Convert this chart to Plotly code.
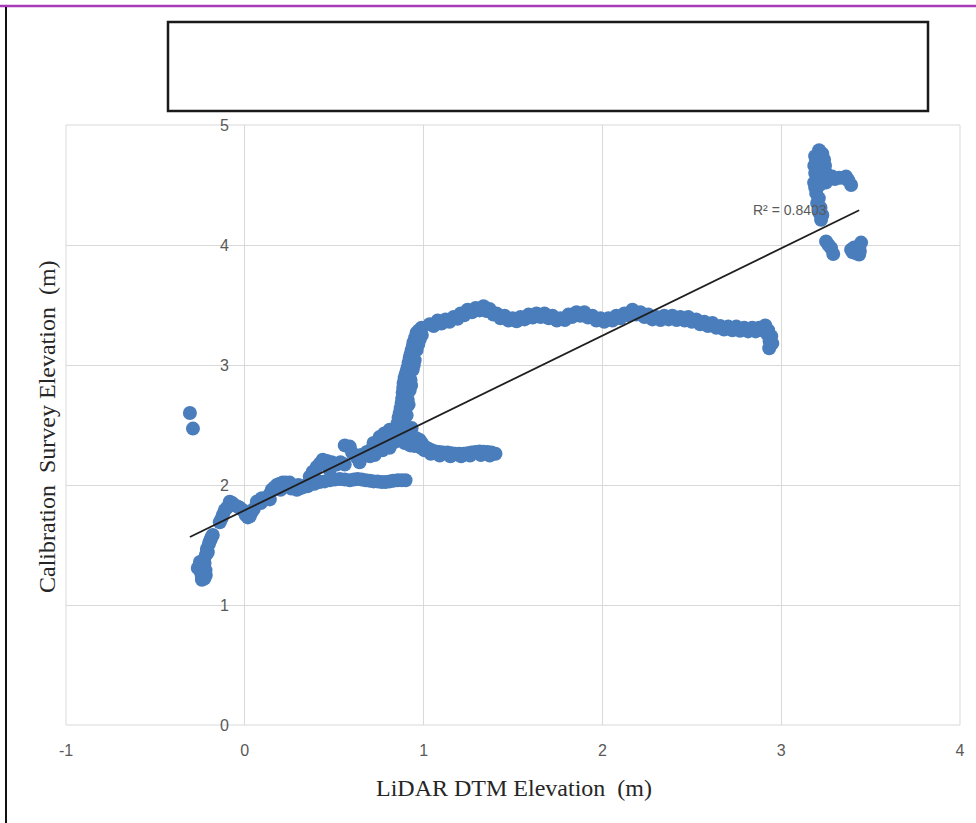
import plotly.graph_objects as go

# ---- survey points (LiDAR DTM elevation vs calibration survey elevation, metres) ----
outlier_x = [-0.307, -0.290]
outlier_y = [2.600, 2.470]

toe_x = [-0.240, -0.246, -0.235, -0.229, -0.218, -0.212, -0.201, -0.190, -0.179, -0.263, -0.251, -0.218,
         -0.240, -0.232, -0.225, -0.207, -0.196, -0.185, -0.226, -0.220]
toe_y = [1.210, 1.275, 1.325, 1.375, 1.417, 1.467, 1.508, 1.550, 1.583, 1.308, 1.358, 1.250,
         1.240, 1.300, 1.350, 1.440, 1.530, 1.570, 1.220, 1.290]

ramp_x = [-0.140, -0.123, -0.112, -0.084, -0.056, -0.028, 0.017, 0.039, 0.067, 0.095,
          0.123, 0.151, 0.179, 0.212, 0.251, 0.291, 0.324, 0.363, 0.402,
          -0.130, -0.100, -0.070, -0.040, -0.010, 0.005, 0.028, 0.050, 0.080, 0.110,
          0.137, 0.165, 0.195, 0.230, 0.270, 0.305, 0.343, 0.380,
          0.090, 0.140, 0.200, 0.260, 0.300, 0.350]
ramp_y = [1.690, 1.750, 1.790, 1.860, 1.830, 1.810, 1.730, 1.775, 1.860, 1.890,
          1.890, 1.960, 2.000, 2.020, 2.020, 1.960, 1.980, 2.020, 2.040,
          1.720, 1.810, 1.850, 1.820, 1.790, 1.750, 1.740, 1.800, 1.870, 1.880,
          1.920, 1.980, 2.010, 2.020, 1.990, 1.970, 2.000, 2.030,
          1.850, 1.880, 1.960, 1.970, 2.000, 1.990]

upper_x = [0.363, 0.402, 0.436, 0.486, 0.514, 0.559, 0.587, 0.626, 0.682, 0.737, 0.793, 0.849, 0.905,
           0.475, 0.559, 0.642, 0.726, 0.810,
           0.380, 0.420, 0.460, 0.500, 0.535, 0.600, 0.650, 0.710, 0.765, 0.820, 0.877,
           0.700, 0.770, 0.840]
upper_y = [2.070, 2.150, 2.210, 2.190, 2.170, 2.330, 2.320, 2.230, 2.275, 2.330, 2.375, 2.460, 2.480,
           2.125, 2.170, 2.190, 2.250, 2.310,
           2.110, 2.180, 2.200, 2.180, 2.190, 2.270, 2.250, 2.300, 2.350, 2.420, 2.470,
           2.240, 2.290, 2.360]

lower_x = [0.419, 0.475, 0.531, 0.587, 0.631, 0.676, 0.721, 0.765, 0.810, 0.855, 0.899,
           0.447, 0.503, 0.559, 0.610, 0.654, 0.700, 0.743, 0.787, 0.830, 0.877, 0.360, 0.390]
lower_y = [2.025, 2.040, 2.050, 2.040, 2.050, 2.040, 2.030, 2.025, 2.030, 2.040, 2.040,
           2.030, 2.045, 2.045, 2.045, 2.045, 2.035, 2.030, 2.025, 2.035, 2.040, 2.000, 2.010]

knot_x = [0.754, 0.810, 0.866, 0.922, 0.978, 0.933, 0.883, 0.838, 0.894, 0.950,
          0.780, 0.850, 0.900, 0.960, 0.910, 0.870, 0.990, 0.820, 0.750, 0.720,
          0.940, 0.965, 0.925, 0.985, 1.005]
knot_y = [2.400, 2.460, 2.440, 2.410, 2.375, 2.475, 2.500, 2.375, 2.350, 2.325,
          2.430, 2.420, 2.450, 2.390, 2.370, 2.390, 2.350, 2.400, 2.370, 2.350,
          2.350, 2.340, 2.330, 2.310, 2.290]

shelf_x = [1.006, 1.045, 1.089, 1.134, 1.179, 1.223, 1.268, 1.313, 1.358, 1.402,
           1.025, 1.067, 1.110, 1.156, 1.200, 1.245, 1.290, 1.335, 1.380,
           1.040, 1.090, 1.150, 1.210, 1.260, 1.320, 1.370]
shelf_y = [2.320, 2.290, 2.275, 2.270, 2.260, 2.260, 2.270, 2.280, 2.275, 2.260,
           2.305, 2.280, 2.270, 2.265, 2.260, 2.265, 2.275, 2.278, 2.270,
           2.260, 2.245, 2.240, 2.240, 2.245, 2.250, 2.245]

rise_x = [0.855, 0.866, 0.877, 0.883, 0.888, 0.899, 0.911, 0.922, 0.933, 0.944, 0.961, 0.989,
          0.888, 0.899, 0.911, 0.922, 0.927, 0.939, 0.950, 0.961, 0.978,
          0.860, 0.872, 0.880, 0.886, 0.894, 0.905, 0.916, 0.928, 0.940, 0.953, 0.975,
          0.905, 0.916, 0.930, 0.945, 0.970, 0.990]
rise_y = [2.515, 2.600, 2.680, 2.770, 2.850, 2.920, 2.980, 3.060, 3.125, 3.190, 3.270, 3.310,
          2.540, 2.625, 2.710, 2.790, 2.875, 2.960, 3.040, 3.125, 3.210,
          2.560, 2.640, 2.720, 2.810, 2.890, 2.950, 3.020, 3.090, 3.160, 3.230, 3.290,
          2.580, 2.670, 2.830, 3.000, 3.170, 3.250]

plateau_x = [1.034, 1.078, 1.123, 1.168, 1.207, 1.246, 1.291, 1.335, 1.369, 1.408, 1.453, 1.497,
             1.542, 1.587, 1.631, 1.676, 1.721, 1.765, 1.810, 1.855, 1.899, 1.944, 1.989, 2.034,
             2.078, 2.123, 2.168, 2.212, 2.257, 2.302, 2.346, 2.391, 2.436, 2.480, 2.525, 2.570,
             2.615, 2.659, 2.704, 2.749, 2.793, 2.838, 2.877, 2.911, 2.927, 2.944, 2.950, 2.933,
             1.056, 1.100, 1.145, 1.190, 1.227, 1.270, 1.313, 1.352, 1.390, 1.430, 1.475, 1.520,
             1.565, 1.610, 1.655, 1.700, 1.745, 1.790, 1.830, 1.877, 1.920, 1.966, 2.010, 2.056,
             2.100, 2.145, 2.190, 2.235, 2.280, 2.325, 2.370, 2.415, 2.460, 2.500, 2.547, 2.590,
             2.637, 2.680, 2.727, 2.770, 2.815, 2.857, 2.895, 2.920, 2.935]
plateau_y = [3.340, 3.370, 3.380, 3.400, 3.430, 3.460, 3.475, 3.490, 3.467, 3.430, 3.410, 3.390,
             3.400, 3.420, 3.430, 3.430, 3.410, 3.390, 3.420, 3.440, 3.440, 3.410, 3.390, 3.390,
             3.410, 3.430, 3.460, 3.440, 3.420, 3.400, 3.410, 3.410, 3.400, 3.400, 3.380, 3.360,
             3.350, 3.325, 3.320, 3.320, 3.310, 3.310, 3.310, 3.330, 3.290, 3.240, 3.180, 3.140,
             3.325, 3.345, 3.360, 3.385, 3.415, 3.440, 3.455, 3.450, 3.420, 3.390, 3.370, 3.365,
             3.380, 3.395, 3.400, 3.390, 3.370, 3.375, 3.400, 3.410, 3.395, 3.370, 3.360, 3.370,
             3.390, 3.415, 3.420, 3.400, 3.380, 3.375, 3.380, 3.375, 3.370, 3.360, 3.340, 3.325,
             3.310, 3.295, 3.290, 3.285, 3.280, 3.280, 3.290, 3.260, 3.200]

crest_x = [3.212, 3.201, 3.196, 3.212, 3.184, 3.196, 3.201, 3.212, 3.223, 3.240, 3.251,
           3.285, 3.324, 3.363, 3.391,
           3.251, 3.279, 3.291,
           3.391, 3.419, 3.436, 3.447, 3.408, 3.436,
           3.190, 3.230, 3.205, 3.225, 3.190, 3.210, 3.190, 3.245, 3.220, 3.230,
           3.260, 3.300, 3.345, 3.375, 3.185, 3.236, 3.420, 3.400, 3.440, 3.265,
           3.250, 3.215, 3.195]
crest_y = [4.790, 4.730, 4.680, 4.640, 4.520, 4.430, 4.350, 4.270, 4.210, 4.710, 4.600,
           4.570, 4.560, 4.570, 4.500,
           4.030, 3.975, 3.925,
           3.960, 3.930, 3.980, 4.020, 3.980, 3.920,
           4.740, 4.760, 4.570, 4.550, 4.480, 4.390, 4.600, 4.660, 4.310, 4.250,
           4.560, 4.550, 4.560, 4.540, 4.660, 4.600, 3.960, 3.940, 3.950, 4.000,
           4.520, 4.500, 4.700]

# linear trendline y = slope * x + intercept, drawn across the data extent
trend_slope = 0.7275
trend_intercept = 1.79
trend_x = [-0.307, 3.436]
r_squared_label = "R² = 0.8403"

x_ticks = [-1, 0, 1, 2, 3, 4]
x_tick_text = ["-1", "0", "1", "2", "3", "4"]
y_ticks = [0, 1, 2, 3, 4, 5]
y_tick_text = ["0", "1", "2", "3", "4", "5"]

# ---- assemble ----
xs, ys = [], []
for bx, by in [(outlier_x, outlier_y), (toe_x, toe_y), (ramp_x, ramp_y), (upper_x, upper_y),
               (lower_x, lower_y), (knot_x, knot_y), (shelf_x, shelf_y), (rise_x, rise_y),
               (plateau_x, plateau_y), (crest_x, crest_y)]:
    xs.extend(bx)
    ys.extend(by)

trend_y = [trend_slope * v + trend_intercept for v in trend_x]

W, H = 976, 823
ML, MR, MT, MB = 66, 16, 125, 98
PW, PH = W - ML - MR, H - MT - MB


def px(xpix):
    return (xpix - ML) / PW


def py(ypix):
    return (H - MB - ypix) / PH


GRID = "#d9d9d9"
TICK = "#595959"
BLUE = "#4a7dbb"

fig = go.Figure()
fig.add_trace(go.Scatter(
    x=xs, y=ys, mode="markers",
    marker=dict(size=14, color=BLUE, line=dict(width=0)),
    hoverinfo="x+y", showlegend=False,
))
fig.add_trace(go.Scatter(
    x=trend_x, y=trend_y, mode="lines",
    line=dict(color="#1f1f1f", width=1.8),
    hoverinfo="skip", showlegend=False,
))

fig.update_layout(
    width=W, height=H,
    margin=dict(l=ML, r=MR, t=MT, b=MB, pad=0),
    paper_bgcolor="white", plot_bgcolor="white",
    xaxis=dict(
        range=[-1, 4], tickvals=x_ticks, ticktext=x_tick_text,
        showgrid=True, gridcolor=GRID, gridwidth=1, zeroline=False, showline=False,
        ticks="", ticklabelstandoff=14,
        tickfont=dict(family="Liberation Sans, Arial, sans-serif", size=16, color=TICK),
        fixedrange=True,
    ),
    yaxis=dict(
        range=[0, 5], tickvals=y_ticks, ticktext=y_tick_text,
        anchor="free", position=px(245), side="left",
        showgrid=True, gridcolor=GRID, gridwidth=1, zeroline=False, showline=False,
        ticks="", ticklabelstandoff=16,
        tickfont=dict(family="Liberation Sans, Arial, sans-serif", size=16, color=TICK),
        fixedrange=True,
    ),
    shapes=[
        # plot-area frame
        dict(type="rect", xref="paper", yref="paper", x0=0, y0=0, x1=1, y1=1,
             line=dict(color=GRID, width=1), layer="below"),
        # header rule across the top of the page
        dict(type="line", xref="paper", yref="paper", x0=px(0), x1=px(W), y0=py(6), y1=py(6),
             line=dict(color="#a83cb8", width=2.5)),
        # left page border
        dict(type="line", xref="paper", yref="paper", x0=px(6), x1=px(6), y0=py(7), y1=py(H),
             line=dict(color="#111111", width=2)),
        # empty title box
        dict(type="rect", xref="paper", yref="paper", x0=px(168), x1=px(928), y0=py(111), y1=py(22),
             line=dict(color="#1a1a1a", width=2.5), fillcolor="rgba(0,0,0,0)"),
    ],
    annotations=[
        dict(text="LiDAR DTM Elevation\u00a0 (m)", xref="paper", yref="paper",
             x=px(514), y=py(788), showarrow=False, xanchor="center", yanchor="middle",
             font=dict(family="Liberation Serif, Times New Roman, serif", size=24, color="#262626")),
        dict(text="Calibration\u00a0 Survey Elevation\u00a0 (m)", xref="paper", yref="paper",
             x=px(47), y=py(427), showarrow=False, textangle=-90, xanchor="center", yanchor="middle",
             font=dict(family="Liberation Serif, Times New Roman, serif", size=24, color="#262626")),
        dict(text=r_squared_label, xref="x", yref="y", x=3.05, y=4.29, showarrow=False,
             xanchor="center", yanchor="middle",
             font=dict(family="Liberation Sans, Arial, sans-serif", size=14, color=TICK)),
    ],
)

fig.write_html("out.html")
